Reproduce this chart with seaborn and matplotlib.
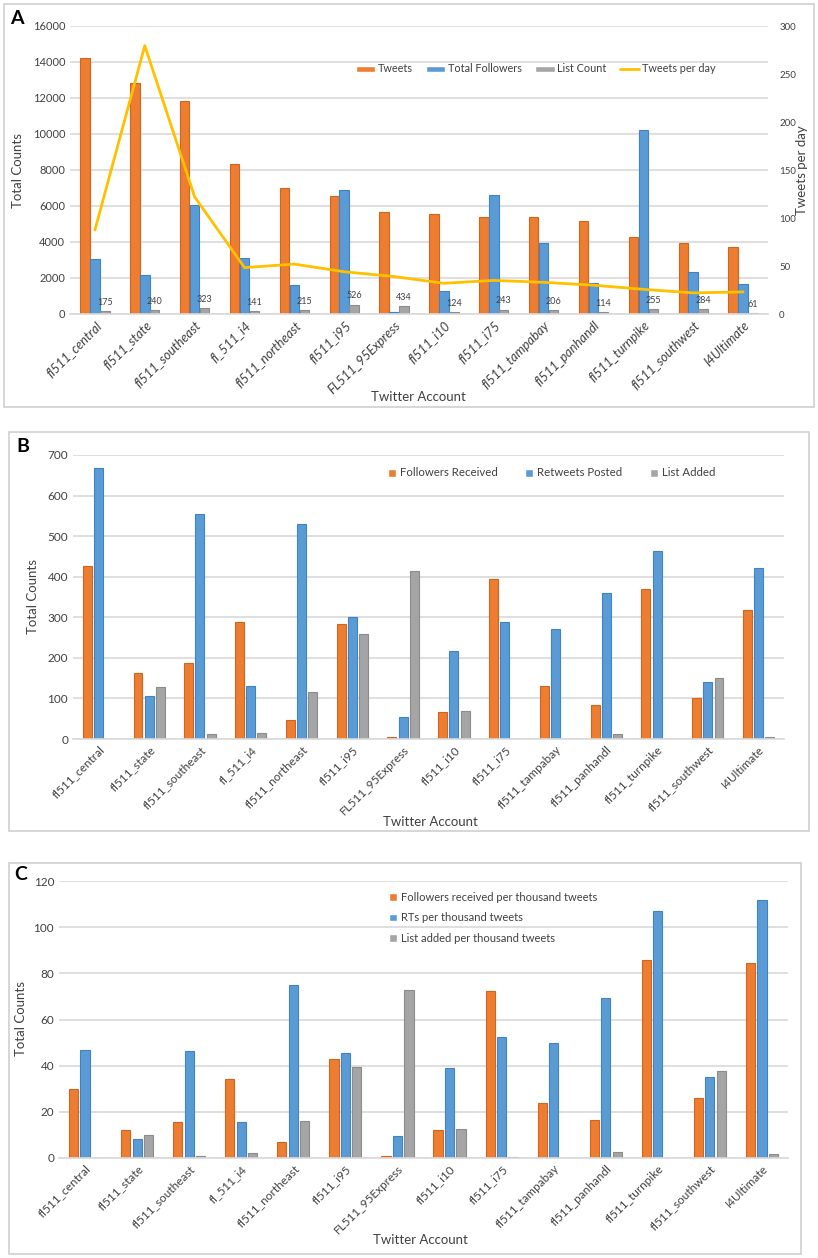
import numpy as np
import pandas as pd
import matplotlib
matplotlib.use("Agg")
import matplotlib.pyplot as plt
from matplotlib.patches import Rectangle
import seaborn as sns

sns.set_style("white")
plt.rcParams['font.family'] = ['Lato', 'DejaVu Sans']

accounts = ["fl511_central", "fl511_state", "fl511_southeast", "fl_511_i4", "fl511_northeast",
            "fl511_i95", "FL511_95Express", "fl511_i10", "fl511_i75", "fl511_tampabay",
            "fl511_panhandl", "fl511_turnpike", "fl511_southwest", "I4Ultimate"]

# Panel A
tweets = [14240, 12820, 11850, 8340, 7020, 6560, 5690, 5570, 5410, 5410, 5180, 4300, 3960, 3740]
total_followers = [3040, 2150, 6040, 3130, 1630, 6910, 110, 1260, 6630, 3930, 1740, 10240, 2330, 1670]
list_count = [175, 240, 323, 141, 215, 526, 434, 124, 243, 206, 114, 255, 284, 61]
tweets_per_day = [87.5, 279.5, 122, 48.3, 52, 44, 39, 32, 35, 33, 30, 25.7, 22, 23]

# Panel B
followers_received = [426, 162, 187, 288, 48, 283, 5, 67, 394, 131, 84, 370, 102, 317]
retweets_posted = [667, 106, 554, 131, 530, 301, 54, 218, 288, 272, 360, 463, 140, 421]
list_added = [0, 127, 12, 16, 115, 260, 415, 70, 0, 0, 13, 0, 150, 6]

# Panel C
followers_per_k = [29.9, 12.3, 15.6, 34.3, 6.9, 42.7, 0.7, 12.2, 72.4, 23.9, 16.4, 85.7, 25.8, 84.3]
rts_per_k = [46.7, 8.1, 46.4, 15.5, 75.0, 45.7, 9.7, 38.8, 52.6, 50.0, 69.4, 107.1, 35.1, 111.6]
list_per_k = [0, 9.8, 0.9, 2.0, 16.0, 39.3, 72.7, 12.4, 0.3, 0, 2.8, 0, 37.5, 1.6]

ORANGE = "#ED7D31"
BLUE = "#5B9BD5"
GRAY = "#A5A5A5"
GOLD = "#FFC000"
EDGES = ["#D0651E", "#3F83C4", "#8C8C8C"]
TXT = "#404040"
GRID = "#D9D9D9"

W, H = 818, 1258
fig = plt.figure(figsize=(W / 100, H / 100), dpi=100)


def px_axes(x0, x1, y0, y1):
    return fig.add_axes([x0 / W, 1 - y1 / H, (x1 - x0) / W, (y1 - y0) / H])


def long_df(series):
    frames = []
    for name, vals in series:
        frames.append(pd.DataFrame({"account": accounts, "value": vals, "series": name}))
    return pd.concat(frames, ignore_index=True)


def style_bars(ax, ymax, ystep, rot, tick_fs, xstyle="normal", xfs=8.5):
    ax.set_xlim(-0.5, len(accounts) - 0.5)
    ax.set_ylim(0, ymax)
    ax.set_yticks(np.arange(0, ymax + 1e-9, ystep))
    ax.yaxis.grid(True, color=GRID, linewidth=1.2)
    ax.set_axisbelow(True)
    for s in ["top", "right", "left"]:
        ax.spines[s].set_visible(False)
    ax.spines["bottom"].set_color(GRID)
    ax.spines["bottom"].set_linewidth(1.2)
    ax.tick_params(axis="both", length=0, colors=TXT, labelsize=tick_fs)
    ax.set_xticks(range(len(accounts)))
    ax.set_xticklabels(accounts, rotation=rot, ha="right", rotation_mode="anchor", fontsize=xfs,
                       color=TXT, style=xstyle)
    ax.set_xlabel("")
    ax.set_ylabel("")
    for cont, ec in zip(ax.containers, EDGES):
        for p in cont:
            p.set_edgecolor(ec)
            p.set_linewidth(0.8)


def panel_box(x0, y0, x1, y1):
    fig.add_artist(Rectangle((x0 / W, 1 - y1 / H), (x1 - x0) / W, (y1 - y0) / H,
                             transform=fig.transFigure, fill=False, edgecolor="#D0D0D0", linewidth=1.2))


# ---------------- Panel A ----------------
panel_box(4, 4, 814, 407)
axA = px_axes(70, 768, 26, 314)
dfA = long_df([("Tweets", tweets), ("Total Followers", total_followers), ("List Count", list_count)])
sns.barplot(data=dfA, x="account", y="value", hue="series", palette=[ORANGE, BLUE, GRAY],
            width=0.6, gap=0.05, saturation=1, ax=axA, legend=True)
style_bars(axA, 16000, 2000, 45, 8, xstyle="italic", xfs=9.3)
axA.bar_label(axA.containers[2], labels=[str(v) for v in list_count], padding=3, fontsize=6.5, color=TXT)
axA2 = axA.twinx()
sns.lineplot(x=np.arange(len(accounts)), y=tweets_per_day, color=GOLD, linewidth=2, ax=axA2, label="Tweets per day")
axA2.set_ylim(0, 300)
axA2.set_yticks(np.arange(0, 301, 50))
axA2.tick_params(axis="y", length=0, colors=TXT, labelsize=7, pad=8)
for s in ["top", "right", "left", "bottom"]:
    axA2.spines[s].set_visible(False)
axA2.set_xlim(-0.5, len(accounts) - 0.5)
axA2.set_ylabel("")
h1, l1 = axA.get_legend_handles_labels()
h2, l2 = axA2.get_legend_handles_labels()
axA.get_legend().remove()
axA2.get_legend().remove()
fig.legend(h1 + h2, l1 + l2, loc="center left", bbox_to_anchor=(346 / W, 1 - 69 / H), ncol=4,
           frameon=False, fontsize=7.8, handlelength=1.8, handleheight=0.45, handletextpad=0.25,
           columnspacing=1.2, labelcolor=TXT)
fig.text(802 / W, 1 - 170 / H, "Tweets per day", rotation=90, ha="center", va="center", fontsize=9.5, color=TXT)
fig.text(18 / W, 1 - 170 / H, "Total Counts", rotation=90, ha="center", va="center", fontsize=9.5, color=TXT)
fig.text(418 / W, 1 - 397 / H, "Twitter Account", ha="center", va="center", fontsize=9.5, color=TXT)
fig.text(10 / W, 1 - 18 / H, "A", fontsize=14, fontweight="bold", ha="left", va="center", color="black")

# ---------------- Panel B ----------------
panel_box(9, 432, 809, 831)
axB = px_axes(73, 784, 455, 739)
dfB = long_df([("Followers Received", followers_received), ("Retweets Posted", retweets_posted),
               ("List Added", list_added)])
sns.barplot(data=dfB, x="account", y="value", hue="series", palette=[ORANGE, BLUE, GRAY],
            width=0.66, gap=0.2, saturation=1, ax=axB, legend=True)
style_bars(axB, 700, 100, 45, 8.5)
hB, lB = axB.get_legend_handles_labels()
axB.get_legend().remove()
fig.legend(hB, lB, loc="center left", bbox_to_anchor=(378 / W, 1 - 473 / H), ncol=3,
           frameon=False, fontsize=8.2, handlelength=0.7, handleheight=0.7, handletextpad=0.35,
           columnspacing=2.4, labelcolor=TXT)
fig.text(33 / W, 1 - 597 / H, "Total Counts", rotation=90, ha="center", va="center", fontsize=9.5, color=TXT)
fig.text(430 / W, 1 - 822 / H, "Twitter Account", ha="center", va="center", fontsize=9.5, color=TXT)
fig.text(16 / W, 1 - 447 / H, "B", fontsize=14, fontweight="bold", ha="left", va="center", color="black")

# ---------------- Panel C ----------------
panel_box(9, 863, 801, 1254)
axC = px_axes(59, 788, 881, 1158)
dfC = long_df([("Followers received per thousand tweets", followers_per_k),
               ("RTs per thousand tweets", rts_per_k),
               ("List added per thousand tweets", list_per_k)])
sns.barplot(data=dfC, x="account", y="value", hue="series", palette=[ORANGE, BLUE, GRAY],
            width=0.66, gap=0.2, saturation=1, ax=axC, legend=True)
style_bars(axC, 120, 20, 45, 8.5)
hC, lC = axC.get_legend_handles_labels()
axC.get_legend().remove()
fig.legend(hC, lC, loc="upper left", bbox_to_anchor=(379 / W, 1 - 882 / H), ncol=1,
           frameon=False, fontsize=8, handlelength=0.7, handleheight=0.7, handletextpad=0.35,
           labelspacing=0.85, labelcolor=TXT)
fig.text(21 / W, 1 - 1018 / H, "Total Counts", rotation=90, ha="center", va="center", fontsize=9.5, color=TXT)
fig.text(420 / W, 1 - 1240 / H, "Twitter Account", ha="center", va="center", fontsize=9.5, color=TXT)
fig.text(14 / W, 1 - 875 / H, "C", fontsize=14, fontweight="bold", ha="left", va="center", color="black")

fig.savefig("out.png", dpi=100, facecolor="white")
